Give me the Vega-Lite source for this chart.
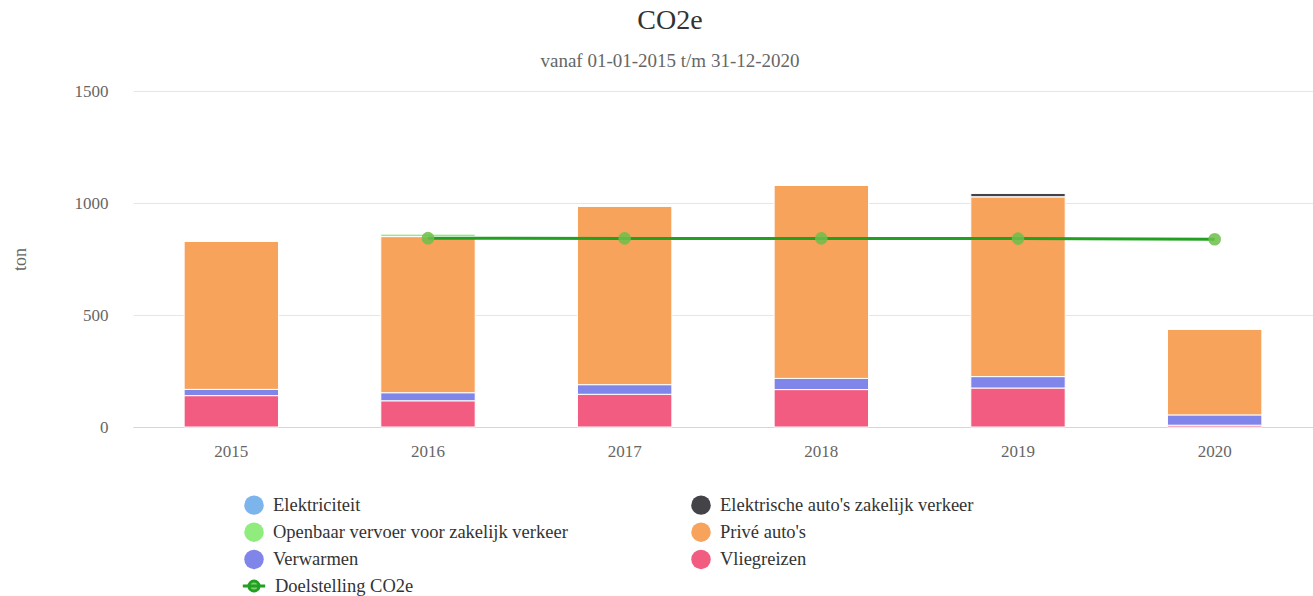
{
  "$schema": "https://vega.github.io/schema/vega-lite/v6.json",
  "width": 1180,
  "height": 336,
  "autosize": {"type": "none"},
  "padding": {"left": 133, "top": 91, "right": 0, "bottom": 169},
  "background": "white",
  "title": {
    "text": "CO2e",
    "subtitle": "vanaf 01-01-2015 t/m 31-12-2020",
    "font": "Liberation Serif",
    "fontSize": 28,
    "fontWeight": "normal",
    "color": "#333333",
    "subtitleFont": "Liberation Serif",
    "subtitleFontSize": 19,
    "subtitleColor": "#666666",
    "subtitlePadding": 17,
    "anchor": "middle",
    "dx": -53,
    "offset": 11
  },
  "config": {
    "view": {"stroke": null},
    "font": "Liberation Serif",
    "axis": {"labelFont": "Liberation Serif", "titleFont": "Liberation Serif"},
    "legend": {"labelFont": "Liberation Serif", "titleFont": "Liberation Serif"}
  },
  "datasets": {
    "bars": [
      {"jaar": "2015", "categorie": "Vliegreizen", "waarde": 140, "rang": 1},
      {"jaar": "2015", "categorie": "Verwarmen", "waarde": 28, "rang": 2},
      {"jaar": "2015", "categorie": "Privé auto's", "waarde": 662, "rang": 3},
      {"jaar": "2015", "categorie": "Openbaar vervoer voor zakelijk verkeer", "waarde": 0, "rang": 4},
      {"jaar": "2015", "categorie": "Elektrische auto's zakelijk verkeer", "waarde": 0, "rang": 5},
      {"jaar": "2015", "categorie": "Elektriciteit", "waarde": 0, "rang": 6},
      {"jaar": "2016", "categorie": "Vliegreizen", "waarde": 117, "rang": 1},
      {"jaar": "2016", "categorie": "Verwarmen", "waarde": 36, "rang": 2},
      {"jaar": "2016", "categorie": "Privé auto's", "waarde": 697, "rang": 3},
      {"jaar": "2016", "categorie": "Openbaar vervoer voor zakelijk verkeer", "waarde": 13, "rang": 4},
      {"jaar": "2016", "categorie": "Elektrische auto's zakelijk verkeer", "waarde": 0, "rang": 5},
      {"jaar": "2016", "categorie": "Elektriciteit", "waarde": 0, "rang": 6},
      {"jaar": "2017", "categorie": "Vliegreizen", "waarde": 146, "rang": 1},
      {"jaar": "2017", "categorie": "Verwarmen", "waarde": 43, "rang": 2},
      {"jaar": "2017", "categorie": "Privé auto's", "waarde": 798, "rang": 3},
      {"jaar": "2017", "categorie": "Openbaar vervoer voor zakelijk verkeer", "waarde": 0, "rang": 4},
      {"jaar": "2017", "categorie": "Elektrische auto's zakelijk verkeer", "waarde": 0, "rang": 5},
      {"jaar": "2017", "categorie": "Elektriciteit", "waarde": 0, "rang": 6},
      {"jaar": "2018", "categorie": "Vliegreizen", "waarde": 167, "rang": 1},
      {"jaar": "2018", "categorie": "Verwarmen", "waarde": 50, "rang": 2},
      {"jaar": "2018", "categorie": "Privé auto's", "waarde": 863, "rang": 3},
      {"jaar": "2018", "categorie": "Openbaar vervoer voor zakelijk verkeer", "waarde": 0, "rang": 4},
      {"jaar": "2018", "categorie": "Elektrische auto's zakelijk verkeer", "waarde": 0, "rang": 5},
      {"jaar": "2018", "categorie": "Elektriciteit", "waarde": 0, "rang": 6},
      {"jaar": "2019", "categorie": "Vliegreizen", "waarde": 174, "rang": 1},
      {"jaar": "2019", "categorie": "Verwarmen", "waarde": 51, "rang": 2},
      {"jaar": "2019", "categorie": "Privé auto's", "waarde": 803, "rang": 3},
      {"jaar": "2019", "categorie": "Openbaar vervoer voor zakelijk verkeer", "waarde": 0, "rang": 4},
      {"jaar": "2019", "categorie": "Elektrische auto's zakelijk verkeer", "waarde": 16, "rang": 5},
      {"jaar": "2019", "categorie": "Elektriciteit", "waarde": 0, "rang": 6},
      {"jaar": "2020", "categorie": "Vliegreizen", "waarde": 8, "rang": 1},
      {"jaar": "2020", "categorie": "Verwarmen", "waarde": 46, "rang": 2},
      {"jaar": "2020", "categorie": "Privé auto's", "waarde": 384, "rang": 3},
      {"jaar": "2020", "categorie": "Openbaar vervoer voor zakelijk verkeer", "waarde": 0, "rang": 4},
      {"jaar": "2020", "categorie": "Elektrische auto's zakelijk verkeer", "waarde": 0, "rang": 5},
      {"jaar": "2020", "categorie": "Elektriciteit", "waarde": 0, "rang": 6}
    ],
    "doel": [
      {"jaar": "2016", "serie": "Doelstelling CO2e", "doelstelling": 843},
      {"jaar": "2017", "serie": "Doelstelling CO2e", "doelstelling": 842},
      {"jaar": "2018", "serie": "Doelstelling CO2e", "doelstelling": 842},
      {"jaar": "2019", "serie": "Doelstelling CO2e", "doelstelling": 841},
      {"jaar": "2020", "serie": "Doelstelling CO2e", "doelstelling": 838}
    ]
  },
  "layer": [
    {
      "data": {"name": "bars"},
      "mark": {"type": "bar", "stroke": "white", "strokeWidth": 1},
      "encoding": {
        "x": {
          "field": "jaar", "type": "nominal",
          "scale": {"domain": ["2015", "2016", "2017", "2018", "2019", "2020"], "paddingInner": 0.52, "paddingOuter": 0.26},
          "axis": {
            "title": null, "labelAngle": 0, "labelFontSize": 17, "labelColor": "#666666", "labelFont": "Liberation Serif",
            "labelPadding": 16, "ticks": false, "domainColor": "#ccd6eb", "domainWidth": 1, "grid": false
          }
        },
        "y": {
          "field": "waarde", "type": "quantitative", "stack": "zero",
          "scale": {"domain": [0, 1500], "nice": false},
          "axis": {
            "title": "ton", "titleFontSize": 18, "titleFontWeight": "normal", "titleColor": "#666666", "titleFont": "Liberation Serif",
            "titleX": -113, "titleY": 168, "titleAngle": -90, "titleAlign": "center", "titleBaseline": "middle",
            "values": [0, 500, 1000, 1500], "format": "d", "labelFontSize": 17, "labelColor": "#666666", "labelFont": "Liberation Serif",
            "labelPadding": 25, "ticks": false, "domain": false, "gridColor": "#e6e6e6", "gridWidth": 1
          }
        },
        "color": {
          "field": "categorie", "type": "nominal",
          "scale": {
            "domain": ["Elektriciteit", "Elektrische auto's zakelijk verkeer", "Openbaar vervoer voor zakelijk verkeer", "Privé auto's", "Verwarmen", "Vliegreizen"],
            "range": ["#7cb5ec", "#434348", "#90ed7d", "#f7a35c", "#8085e9", "#f15c80"]
          },
          "legend": {
            "title": null, "orient": "none", "legendX": 111, "legendY": 404,
            "direction": "horizontal", "columns": 2, "columnPadding": 123, "rowPadding": 7.2,
            "symbolType": "circle", "symbolSize": 380, "symbolStrokeWidth": 0,
            "labelFont": "Liberation Serif", "labelFontSize": 18.5, "labelColor": "#333333", "labelOffset": 9, "labelLimit": 400
          }
        },
        "order": {"field": "rang", "type": "quantitative"}
      }
    },
    {
      "data": {"name": "doel"},
      "mark": {"type": "line", "strokeWidth": 3},
      "encoding": {
        "x": {"field": "jaar", "type": "nominal"},
        "y": {"field": "doelstelling", "type": "quantitative"},
        "color": {
          "field": "serie", "type": "nominal",
          "scale": {"domain": ["Doelstelling CO2e"], "range": ["#22a022"]},
          "legend": {
            "title": null, "orient": "none", "legendX": 108, "legendY": 482,
            "symbolType": "M-1,0L1,0M-0.45,0A0.45,0.45 0 1,0 0.45,0A0.45,0.45 0 1,0 -0.45,0Z",
            "symbolSize": 500, "symbolStrokeWidth": 3, "symbolFillColor": "#7fcf6f",
            "labelFont": "Liberation Serif", "labelFontSize": 18.5, "labelColor": "#333333", "labelOffset": 8
          }
        }
      }
    },
    {
      "data": {"name": "doel"},
      "mark": {"type": "point", "filled": true, "size": 160, "color": "#6cc04a", "opacity": 0.85},
      "encoding": {
        "x": {"field": "jaar", "type": "nominal"},
        "y": {"field": "doelstelling", "type": "quantitative"}
      }
    }
  ],
  "resolve": {"scale": {"color": "independent"}}
}
